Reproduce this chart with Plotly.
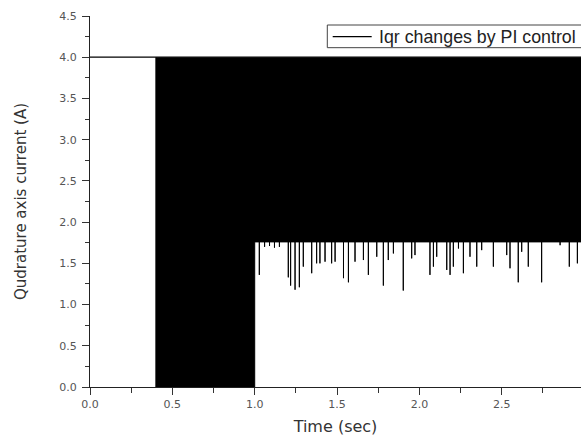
import plotly.graph_objects as go

# ---- data ----
t_start = 0.0
t_switch = 0.4          # fast switching 0..4 A begins
t_ctrl = 1.0            # PI control: lower envelope rises to ~1.76 A
t_end = 3.1
upper_level = 4.0
lower_level_pre = 0.0
base_level = 1.76
series_name = "Iqr changes by PI control"

# downward spikes of the lower envelope after t_ctrl (time, minimum value)
spike_t = [1.028, 1.06, 1.09, 1.12, 1.15, 1.204, 1.218, 1.245, 1.271, 1.295, 1.346,
           1.376, 1.396, 1.427, 1.467, 1.488, 1.539, 1.569, 1.609, 1.660, 1.690,
           1.741, 1.781, 1.811, 1.842, 1.902, 1.953, 1.973, 2.064, 2.085, 2.105,
           2.166, 2.186, 2.206, 2.237, 2.267, 2.307, 2.348, 2.378, 2.449, 2.530,
           2.550, 2.600, 2.621, 2.661, 2.742, 2.854, 2.910, 2.959]
spike_min = [1.36, 1.70, 1.71, 1.69, 1.70, 1.33, 1.23, 1.18, 1.21, 1.46, 1.38,
             1.50, 1.50, 1.52, 1.50, 1.52, 1.32, 1.27, 1.52, 1.54, 1.36,
             1.58, 1.23, 1.54, 1.62, 1.17, 1.56, 1.60, 1.36, 1.46, 1.58,
             1.42, 1.36, 1.46, 1.68, 1.38, 1.58, 1.46, 1.66, 1.46, 1.60,
             1.44, 1.27, 1.64, 1.46, 1.27, 1.72, 1.46, 1.50]

x_ticks = [0.0, 0.5, 1.0, 1.5, 2.0, 2.5, 3.0]
y_ticks = [0.0, 0.5, 1.0, 1.5, 2.0, 2.5, 3.0, 3.5, 4.0, 4.5]

# ---- lower envelope path ----
low_x = [t_switch, t_switch, t_ctrl, t_ctrl]
low_y = [upper_level, lower_level_pre, lower_level_pre, base_level]
for t, m in zip(spike_t, spike_min):
    low_x += [t, t, t]
    low_y += [base_level, m, base_level]
low_x += [t_end]
low_y += [base_level]

fig = go.Figure()
fig.add_trace(go.Scatter(
    x=[t_start, t_end], y=[upper_level, upper_level], mode="lines",
    line=dict(color="black", width=1.2), name=series_name, showlegend=False))
fig.add_trace(go.Scatter(
    x=low_x, y=low_y, mode="lines", line=dict(color="black", width=1),
    fill="tonexty", fillcolor="black", showlegend=False))

tickfont = dict(family="DejaVu Sans, sans-serif", size=11, color="#555555")
xtitlefont = dict(family="DejaVu Sans, sans-serif", size=16, color="#333333")
ytitlefont = dict(family="DejaVu Sans, sans-serif", size=15, color="#333333")

# legend box drawn in paper coordinates (extends past the right edge, as in the reference)
leg_x0, leg_x1, leg_y0, leg_y1 = 0.4833, 1.1, 0.9146, 0.9757
leg_line_x0, leg_line_x1, leg_mid = 0.4943, 0.5737, 0.9445
shapes = [
    dict(type="rect", xref="paper", yref="paper", x0=leg_x0, x1=leg_x1, y0=leg_y0, y1=leg_y1,
         line=dict(color="#444444", width=1), fillcolor="white", layer="above"),
    dict(type="line", xref="paper", yref="paper", x0=leg_line_x0, x1=leg_line_x1,
         y0=leg_mid, y1=leg_mid, line=dict(color="black", width=1.2), layer="above"),
]
annotations = [
    dict(xref="paper", yref="paper", x=0.5851, y=leg_mid, xanchor="left", yanchor="middle",
         text=series_name, showarrow=False,
         font=dict(family="Arial, Liberation Sans, sans-serif", size=17.8, color="#222222")),
]

fig.update_layout(
    width=581, height=437,
    margin=dict(l=90, r=0, t=16, b=50),
    paper_bgcolor="white", plot_bgcolor="white",
    showlegend=False,
    shapes=shapes, annotations=annotations,
    xaxis=dict(range=[0, 2.981], tickvals=x_ticks, tickformat=".1f",
               ticks="outside", ticklen=7, tickwidth=1, tickcolor="#333",
               minor=dict(dtick=0.25, ticks="outside", ticklen=5, tickcolor="#333", showgrid=False),
               showline=True, linecolor="#222", linewidth=1.3, showgrid=False, zeroline=False,
               tickfont=tickfont,
               title=dict(text="Time (sec)", font=xtitlefont, standoff=10)),
    yaxis=dict(range=[0, 4.5], tickvals=y_ticks, tickformat=".1f",
               ticks="outside", ticklen=7, tickwidth=1, tickcolor="#333",
               minor=dict(dtick=0.25, ticks="outside", ticklen=4, tickcolor="#333", showgrid=False),
               showline=True, linecolor="#222", linewidth=1.3, showgrid=False, zeroline=False,
               tickfont=tickfont, ticklabelstandoff=3,
               title=dict(text="Qudrature axis current (A)", font=ytitlefont, standoff=28)),
)

fig.write_html("out.html")
